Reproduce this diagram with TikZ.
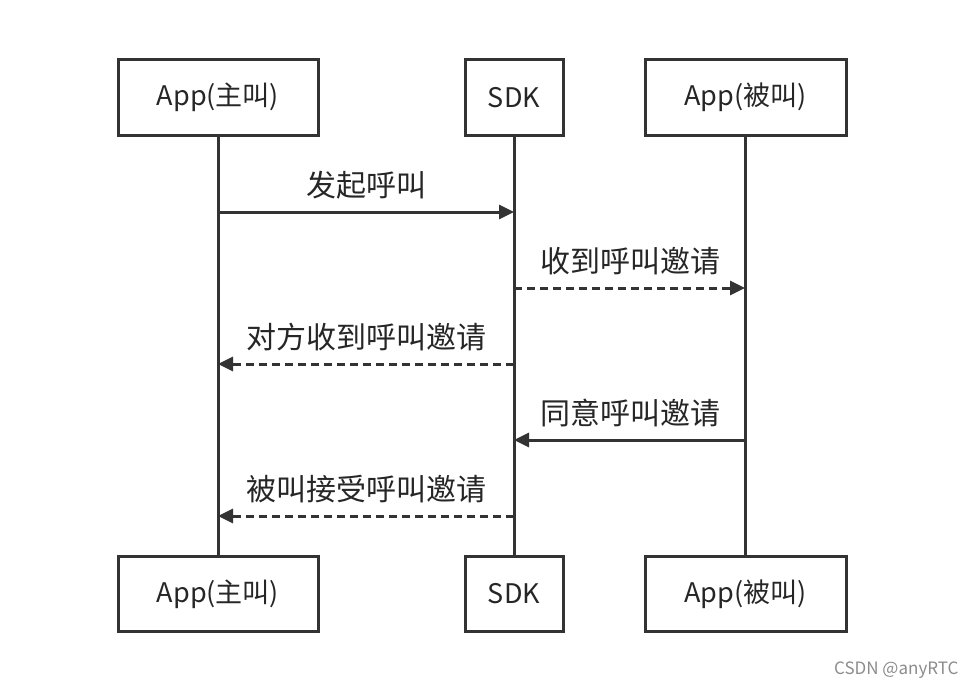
\documentclass[tikz,border=0pt]{standalone}
\usepackage{fontspec}
\setmainfont{Noto Sans CJK SC}
\usetikzlibrary{arrows.meta}
\begin{document}
\begin{tikzpicture}[x=1pt,y=-1pt,
 box/.style={draw=black!80,line width=3pt,minimum height=75pt,inner sep=0pt,font=\fontsize{27}{32}\selectfont,text=black!85},
 life/.style={draw=black!80,line width=3pt},
 msg/.style={draw=black!80,line width=3pt,-{Triangle[length=15pt,width=14pt]}},
 dmsg/.style={msg,dash pattern=on 8pt off 5pt},
 lab/.style={font=\fontsize{30}{34}\selectfont,text=black!85,anchor=base}]
\useasboundingbox (0,0) rectangle (976,690);
\node[box,minimum width=200pt] (a1) at (218,97.5) {App(主叫)};
\node[box,minimum width=98pt] (s1) at (514,97.5) {SDK};
\node[box,minimum width=201pt] (b1) at (745.5,97.5) {App(被叫)};
\node[box,minimum width=200pt] (a2) at (218,594) {App(主叫)};
\node[box,minimum width=98pt] (s2) at (514,594) {SDK};
\node[box,minimum width=201pt] (b2) at (745.5,594) {App(被叫)};
\draw[life] (a1) -- (a2);
\draw[life] (s1) -- (s2);
\draw[life] (b1) -- (b2);
\coordinate (m1a) at (218,212); \coordinate (m1b) at (514,212);
\coordinate (m2a) at (514,288); \coordinate (m2b) at (745,288);
\coordinate (m3a) at (514,364); \coordinate (m3b) at (218,364);
\coordinate (m4a) at (745,440); \coordinate (m4b) at (514,440);
\coordinate (m5a) at (514,516); \coordinate (m5b) at (218,516);
\draw[msg] (m1a) -- (m1b);
\draw[dmsg] (m2a) -- (m2b);
\draw[dmsg] (m3a) -- (m3b);
\draw[msg] (m4a) -- (m4b);
\draw[dmsg] (m5a) -- (m5b);
\node[lab] (l1) at (366,196) {发起呼叫};
\node[lab] (l2) at (630,272) {收到呼叫邀请};
\node[lab] (l3) at (366,348) {对方收到呼叫邀请};
\node[lab] (l4) at (630,424) {同意呼叫邀请};
\node[lab] (l5) at (366,500) {被叫接受呼叫邀请};
\node[font=\fontsize{17}{20}\selectfont,text=black!45,anchor=east] (wm) at (962,670) {CSDN @anyRTC};
\end{tikzpicture}
\end{document}
